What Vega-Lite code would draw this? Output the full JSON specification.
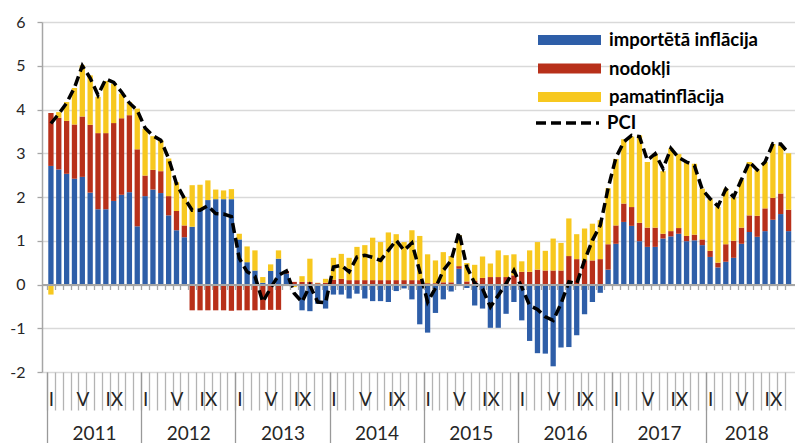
{
  "$schema": "https://vega.github.io/schema/vega-lite/v6.json",
  "width": 753,
  "height": 350,
  "autosize": {"type": "none"},
  "padding": {"left": 42, "top": 22, "right": 0, "bottom": 71},
  "background": "white",
  "data": {"values": [
    {"m":1,"importētā inflācija":2.71,"nodokļi":1.21,"pamatinflācija":-0.23,"pci":3.68},
    {"m":2,"importētā inflācija":2.63,"nodokļi":1.18,"pamatinflācija":0.13,"pci":3.90},
    {"m":3,"importētā inflācija":2.53,"nodokļi":1.21,"pamatinflācija":0.43,"pci":4.15},
    {"m":4,"importētā inflācija":2.42,"nodokļi":1.24,"pamatinflācija":0.83,"pci":4.50},
    {"m":5,"importētā inflācija":2.46,"nodokļi":1.38,"pamatinflācija":1.17,"pci":5.00},
    {"m":6,"importētā inflācija":2.10,"nodokļi":1.55,"pamatinflācija":1.13,"pci":4.72},
    {"m":7,"importētā inflācija":1.72,"nodokļi":1.74,"pamatinflācija":0.83,"pci":4.33},
    {"m":8,"importētā inflācija":1.72,"nodokļi":1.74,"pamatinflācija":1.19,"pci":4.70},
    {"m":9,"importētā inflācija":1.91,"nodokļi":1.78,"pamatinflācija":0.90,"pci":4.62},
    {"m":10,"importētā inflācija":2.05,"nodokļi":1.75,"pamatinflācija":0.56,"pci":4.40},
    {"m":11,"importētā inflācija":2.11,"nodokļi":1.76,"pamatinflācija":0.30,"pci":4.15},
    {"m":12,"importētā inflācija":1.33,"nodokļi":1.76,"pamatinflācija":0.93,"pci":3.98},
    {"m":13,"importētā inflācija":2.02,"nodokļi":0.47,"pamatinflācija":1.07,"pci":3.58},
    {"m":14,"importētā inflācija":2.17,"nodokļi":0.45,"pamatinflācija":0.77,"pci":3.40},
    {"m":15,"importētā inflācija":2.09,"nodokļi":0.50,"pamatinflācija":0.71,"pci":3.30},
    {"m":16,"importētā inflācija":1.58,"nodokļi":0.44,"pamatinflācija":0.86,"pci":2.88},
    {"m":17,"importētā inflācija":1.24,"nodokļi":0.44,"pamatinflācija":0.66,"pci":2.30},
    {"m":18,"importētā inflācija":1.08,"nodokļi":0.27,"pamatinflācija":0.65,"pci":1.97},
    {"m":19,"importētā inflācija":1.32,"nodokļi":-0.59,"pamatinflācija":0.95,"pci":1.70},
    {"m":20,"importētā inflācija":1.74,"nodokļi":-0.59,"pamatinflācija":0.54,"pci":1.70},
    {"m":21,"importētā inflācija":1.93,"nodokļi":-0.59,"pamatinflācija":0.45,"pci":1.80},
    {"m":22,"importētā inflācija":1.95,"nodokļi":-0.59,"pamatinflācija":0.22,"pci":1.62},
    {"m":23,"importētā inflācija":1.95,"nodokļi":-0.59,"pamatinflācija":0.20,"pci":1.61},
    {"m":24,"importētā inflācija":1.95,"nodokļi":-0.60,"pamatinflācija":0.23,"pci":1.55},
    {"m":25,"importētā inflācija":1.03,"nodokļi":-0.59,"pamatinflācija":0.13,"pci":0.60},
    {"m":26,"importētā inflācija":0.51,"nodokļi":-0.59,"pamatinflācija":0.36,"pci":0.29},
    {"m":27,"importētā inflācija":0.32,"nodokļi":-0.59,"pamatinflācija":0.46,"pci":0.19},
    {"m":28,"importētā inflācija":0.04,"nodokļi":-0.58,"pamatinflācija":0.13,"pci":-0.40},
    {"m":29,"importētā inflācija":0.31,"nodokļi":-0.58,"pamatinflācija":0.15,"pci":-0.08},
    {"m":30,"importētā inflācija":0.59,"nodokļi":-0.58,"pamatinflācija":0.19,"pci":0.21},
    {"m":31,"importētā inflācija":0.25,"nodokļi":0.06,"pamatinflācija":0.00,"pci":0.31},
    {"m":32,"importētā inflācija":0.00,"nodokļi":0.06,"pamatinflācija":-0.06,"pci":-0.20},
    {"m":33,"importētā inflācija":-0.59,"nodokļi":0.06,"pamatinflācija":0.13,"pci":-0.40},
    {"m":34,"importētā inflācija":-0.61,"nodokļi":0.06,"pamatinflācija":0.53,"pci":-0.02},
    {"m":35,"importētā inflācija":-0.44,"nodokļi":0.03,"pamatinflācija":0.01,"pci":-0.40},
    {"m":36,"importētā inflācija":-0.55,"nodokļi":0.04,"pamatinflācija":0.09,"pci":-0.42},
    {"m":37,"importētā inflācija":-0.23,"nodokļi":0.11,"pamatinflācija":0.50,"pci":0.40},
    {"m":38,"importētā inflācija":-0.23,"nodokļi":0.13,"pamatinflācija":0.57,"pci":0.44},
    {"m":39,"importētā inflācija":-0.32,"nodokļi":0.10,"pamatinflācija":0.51,"pci":0.29},
    {"m":40,"importētā inflācija":-0.21,"nodokļi":0.10,"pamatinflācija":0.76,"pci":0.63},
    {"m":41,"importētā inflācija":-0.32,"nodokļi":0.10,"pamatinflācija":0.80,"pci":0.67},
    {"m":42,"importētā inflācija":-0.38,"nodokļi":0.10,"pamatinflācija":0.97,"pci":0.62},
    {"m":43,"importētā inflācija":-0.38,"nodokļi":0.10,"pamatinflācija":0.87,"pci":0.55},
    {"m":44,"importētā inflācija":-0.40,"nodokļi":0.10,"pamatinflācija":1.09,"pci":0.78},
    {"m":45,"importētā inflācija":-0.15,"nodokļi":0.10,"pamatinflācija":1.05,"pci":1.01},
    {"m":46,"importētā inflācija":-0.09,"nodokļi":0.10,"pamatinflācija":0.87,"pci":0.78},
    {"m":47,"importētā inflācija":-0.34,"nodokļi":0.10,"pamatinflācija":1.14,"pci":0.95},
    {"m":48,"importētā inflācija":-0.91,"nodokļi":0.10,"pamatinflācija":1.01,"pci":0.30},
    {"m":49,"importētā inflācija":-1.10,"nodokļi":0.03,"pamatinflācija":0.66,"pci":-0.40},
    {"m":50,"importētā inflācija":-0.65,"nodokļi":0.03,"pamatinflācija":0.52,"pci":-0.08},
    {"m":51,"importētā inflācija":-0.34,"nodokļi":0.05,"pamatinflācija":0.69,"pci":0.32},
    {"m":52,"importētā inflācija":-0.16,"nodokļi":0.05,"pamatinflācija":0.60,"pci":0.55},
    {"m":53,"importētā inflācija":0.36,"nodokļi":0.06,"pamatinflācija":0.71,"pci":1.20},
    {"m":54,"importētā inflācija":-0.08,"nodokļi":0.07,"pamatinflācija":0.42,"pci":0.40},
    {"m":55,"importētā inflācija":-0.48,"nodokļi":0.09,"pamatinflācija":0.36,"pci":0.03},
    {"m":56,"importētā inflācija":-0.55,"nodokļi":0.15,"pamatinflācija":0.49,"pci":-0.10},
    {"m":57,"importētā inflācija":-0.99,"nodokļi":0.17,"pamatinflācija":0.31,"pci":-0.51},
    {"m":58,"importētā inflācija":-0.99,"nodokļi":0.17,"pamatinflācija":0.61,"pci":-0.25},
    {"m":59,"importētā inflācija":-0.67,"nodokļi":0.17,"pamatinflācija":0.50,"pci":0.02},
    {"m":60,"importētā inflācija":-0.40,"nodokļi":0.21,"pamatinflācija":0.48,"pci":0.32},
    {"m":61,"importētā inflācija":-0.82,"nodokļi":0.29,"pamatinflācija":0.24,"pci":-0.06},
    {"m":62,"importētā inflācija":-1.29,"nodokļi":0.29,"pamatinflācija":0.49,"pci":-0.48},
    {"m":63,"importētā inflācija":-1.57,"nodokļi":0.34,"pamatinflācija":0.63,"pci":-0.57},
    {"m":64,"importētā inflācija":-1.58,"nodokļi":0.32,"pamatinflācija":0.45,"pci":-0.74},
    {"m":65,"importētā inflācija":-1.87,"nodokļi":0.32,"pamatinflācija":0.73,"pci":-0.82},
    {"m":66,"importētā inflācija":-1.44,"nodokļi":0.32,"pamatinflācija":0.63,"pci":-0.44},
    {"m":67,"importētā inflācija":-1.43,"nodokļi":0.65,"pamatinflācija":0.86,"pci":0.06},
    {"m":68,"importētā inflācija":-1.16,"nodokļi":0.58,"pamatinflācija":0.57,"pci":0.02},
    {"m":69,"importētā inflācija":-0.68,"nodokļi":0.55,"pamatinflācija":0.73,"pci":0.55},
    {"m":70,"importētā inflācija":-0.40,"nodokļi":0.55,"pamatinflācija":0.84,"pci":1.01},
    {"m":71,"importētā inflācija":-0.19,"nodokļi":0.58,"pamatinflācija":0.89,"pci":1.35},
    {"m":72,"importētā inflācija":0.34,"nodokļi":0.58,"pamatinflācija":1.28,"pci":2.20},
    {"m":73,"importētā inflācija":0.93,"nodokļi":0.42,"pamatinflācija":1.52,"pci":2.90},
    {"m":74,"importētā inflācija":1.43,"nodokļi":0.42,"pamatinflācija":1.47,"pci":3.26},
    {"m":75,"importētā inflācija":1.34,"nodokļi":0.43,"pamatinflācija":1.61,"pci":3.41},
    {"m":76,"importētā inflācija":0.99,"nodokļi":0.42,"pamatinflācija":2.00,"pci":3.38},
    {"m":77,"importētā inflācija":0.86,"nodokļi":0.44,"pamatinflācija":1.50,"pci":2.84},
    {"m":78,"importētā inflācija":0.86,"nodokļi":0.44,"pamatinflācija":1.69,"pci":2.99},
    {"m":79,"importētā inflācija":1.05,"nodokļi":0.11,"pamatinflācija":1.43,"pci":2.65},
    {"m":80,"importētā inflācija":1.10,"nodokļi":0.12,"pamatinflācija":1.89,"pci":3.11},
    {"m":81,"importētā inflācija":1.16,"nodokļi":0.13,"pamatinflācija":1.69,"pci":2.90},
    {"m":82,"importētā inflācija":0.99,"nodokļi":0.12,"pamatinflācija":1.69,"pci":2.80},
    {"m":83,"importētā inflācija":1.01,"nodokļi":0.13,"pamatinflācija":1.62,"pci":2.72},
    {"m":84,"importētā inflācija":0.90,"nodokļi":0.13,"pamatinflācija":1.16,"pci":2.17},
    {"m":85,"importētā inflācija":0.63,"nodokļi":0.14,"pamatinflācija":1.18,"pci":1.96},
    {"m":86,"importētā inflācija":0.39,"nodokļi":0.11,"pamatinflācija":1.27,"pci":1.79},
    {"m":87,"importētā inflācija":0.52,"nodokļi":0.40,"pamatinflācija":1.27,"pci":2.18},
    {"m":88,"importētā inflācija":0.61,"nodokļi":0.39,"pamatinflācija":0.99,"pci":2.00},
    {"m":89,"importētā inflācija":0.93,"nodokļi":0.37,"pamatinflācija":1.10,"pci":2.40},
    {"m":90,"importētā inflācija":1.20,"nodokļi":0.38,"pamatinflācija":1.22,"pci":2.80},
    {"m":91,"importētā inflācija":1.09,"nodokļi":0.48,"pamatinflācija":1.04,"pci":2.62},
    {"m":92,"importētā inflācija":1.22,"nodokļi":0.52,"pamatinflācija":1.06,"pci":2.80},
    {"m":93,"importētā inflācija":1.48,"nodokļi":0.50,"pamatinflācija":1.23,"pci":3.22},
    {"m":94,"importētā inflācija":1.61,"nodokļi":0.47,"pamatinflācija":1.10,"pci":3.21},
    {"m":95,"importētā inflācija":1.22,"nodokļi":0.49,"pamatinflācija":1.29,"pci":3.00}
  ]},
  "config": {
    "view": {"stroke": null},
    "font": "Lato",
    "axis": {"labelFont": "Lato", "grid": false},
    "axisY": {
      "grid": true, "gridColor": "#d9d9d9", "gridWidth": 1.5,
      "domain": true, "domainColor": "#a6a6a6", "domainWidth": 1.5,
      "ticks": true, "tickSize": 5, "tickColor": "#a6a6a6", "tickWidth": 1.3,
      "labelFontSize": 16, "labelPadding": 12, "labelColor": "#262626"
    }
  },
  "resolve": {"axis": {"x": "independent"}, "scale": {"x": "shared"}},
  "layer": [
    {
      "transform": [{"fold": ["importētā inflācija", "nodokļi", "pamatinflācija"], "as": ["k", "v"]}],
      "mark": {"type": "bar", "size": 5.3, "clip": true},
      "encoding": {
        "x": {"field": "m", "type": "quantitative",
          "scale": {"domain": [0.5, 95.18], "nice": false, "zero": false},
          "axis": {"orient": "bottom", "title": null, "domain": false, "grid": false,
            "values": [0.5,1.5,2.5,3.5,4.5,5.5,6.5,7.5,8.5,9.5,10.5,11.5,12.5,13.5,14.5,15.5,16.5,17.5,18.5,19.5,20.5,21.5,22.5,23.5,24.5,25.5,26.5,27.5,28.5,29.5,30.5,31.5,32.5,33.5,34.5,35.5,36.5,37.5,38.5,39.5,40.5,41.5,42.5,43.5,44.5,45.5,46.5,47.5,48.5,49.5,50.5,51.5,52.5,53.5,54.5,55.5,56.5,57.5,58.5,59.5,60.5,61.5,62.5,63.5,64.5,65.5,66.5,67.5,68.5,69.5,70.5,71.5,72.5,73.5,74.5,75.5,76.5,77.5,78.5,79.5,80.5,81.5,82.5,83.5,84.5,85.5,86.5,87.5,88.5,89.5,90.5,91.5,92.5,93.5,94.5],
            "ticks": true, "tickSize": 38, "tickColor": "#b3b3b3", "tickWidth": 1.3,
            "labelExpr": "(datum.value-0.5)%12==0 ? 'I' : (datum.value-0.5)%12==4 ? 'V' : (datum.value-0.5)%12==8 ? 'IX' : ''",
            "labelOffset": 3.98, "labelPadding": -19.6, "labelFontSize": 19, "labelColor": "#262626",
            "labelAlign": "center", "labelBaseline": "top",
            "labelOverlap": false, "labelBound": false, "labelFlush": false}},
        "y": {"field": "v", "type": "quantitative", "stack": "zero",
          "scale": {"domain": [-2, 6], "nice": false},
          "axis": {"title": null, "values": [-2,-1,0,1,2,3,4,5,6], "labelExpr": "'' + datum.value"}},
        "color": {"field": "k", "type": "nominal",
          "scale": {"domain": ["importētā inflācija", "nodokļi", "pamatinflācija"], "range": ["#2E5EA8", "#B8301A", "#F7C81F"]},
          "legend": {"orient": "none", "legendX": 496, "legendY": 7.5, "title": null, "padding": 0,
            "symbolType": "M-3,-0.476H3V0.476H-3Z", "symbolSize": 441, "symbolStrokeWidth": 0,
            "symbolOffset": 21, "labelOffset": 29, "labelFontSize": 18.5, "labelFontWeight": "bold",
            "labelFont": "Lato", "labelColor": "#000000", "rowPadding": 8.5}},
        "order": {"field": "k", "sort": "ascending"}
      }
    },
    {
      "mark": {"type": "line", "color": "#000000", "strokeWidth": 3.5, "strokeCap": "butt", "clip": true},
      "encoding": {
        "x": {"field": "m", "type": "quantitative",
          "scale": {"domain": [0.5, 95.18], "nice": false, "zero": false},
          "axis": {"orient": "bottom", "title": null, "offset": -87.5, "zindex": 1, "grid": false,
            "domain": true, "domainColor": "#a6a6a6", "domainWidth": 2,
            "values": [0.5,1.5,2.5,3.5,4.5,5.5,6.5,7.5,8.5,9.5,10.5,11.5,12.5,13.5,14.5,15.5,16.5,17.5,18.5,19.5,20.5,21.5,22.5,23.5,24.5,25.5,26.5,27.5,28.5,29.5,30.5,31.5,32.5,33.5,34.5,35.5,36.5,37.5,38.5,39.5,40.5,41.5,42.5,43.5,44.5,45.5,46.5,47.5,48.5,49.5,50.5,51.5,52.5,53.5,54.5,55.5,56.5,57.5,58.5,59.5,60.5,61.5,62.5,63.5,64.5,65.5,66.5,67.5,68.5,69.5,70.5,71.5,72.5,73.5,74.5,75.5,76.5,77.5,78.5,79.5,80.5,81.5,82.5,83.5,84.5,85.5,86.5,87.5,88.5,89.5,90.5,91.5,92.5,93.5,94.5],
            "ticks": true, "tickSize": 5, "tickColor": "#a6a6a6", "tickWidth": 1.3, "labels": false}},
        "y": {"field": "pci", "type": "quantitative",
          "scale": {"domain": [-2, 6], "nice": false},
          "axis": {"title": null, "values": [-2,-1,0,1,2,3,4,5,6], "labelExpr": "'' + datum.value"}},
        "strokeDash": {"datum": "PCI", "type": "nominal",
          "scale": {"domain": ["PCI"], "range": [[10, 5]]},
          "legend": {"orient": "none", "legendX": 494, "legendY": 67.5, "title": null, "padding": 0,
            "symbolType": "stroke", "symbolSize": 3969, "symbolStrokeWidth": 3.5, "symbolStrokeColor": "#000000",
            "symbolOffset": -2, "labelOffset": 6, "labelFontSize": 18.5, "labelFontWeight": "bold",
            "labelFont": "Lato", "labelColor": "#000000"}}
      }
    },
    {
      "mark": {"type": "point", "opacity": 0},
      "encoding": {
        "x": {"field": "m", "type": "quantitative",
          "scale": {"domain": [0.5, 95.18], "nice": false, "zero": false},
          "axis": {"orient": "bottom", "title": null, "domain": false, "grid": false,
            "values": [0.5, 12.5, 24.5, 36.5, 48.5, 60.5, 72.5, 84.5],
            "ticks": true, "tickSize": 71, "tickColor": "#999999", "tickWidth": 1.3, "labels": false}},
        "y": {"field": "pci", "type": "quantitative",
          "scale": {"domain": [-2, 6], "nice": false},
          "axis": {"title": null, "values": [-2,-1,0,1,2,3,4,5,6], "labelExpr": "'' + datum.value"}}
      }
    },
    {
      "mark": {"type": "point", "opacity": 0},
      "encoding": {
        "x": {"field": "m", "type": "quantitative",
          "scale": {"domain": [0.5, 95.18], "nice": false, "zero": false},
          "axis": {"orient": "bottom", "title": null, "domain": false, "grid": false, "ticks": false,
            "values": [6.5, 18.5, 30.5, 42.5, 54.5, 66.5, 78.5, 89.6],
            "labelExpr": "'' + (2011 + floor((datum.value - 0.5) / 12))",
            "labelPadding": 52, "labelFontSize": 19, "labelColor": "#262626",
            "labelAlign": "center", "labelBaseline": "top",
            "labelOverlap": false, "labelBound": false, "labelFlush": false}},
        "y": {"field": "pci", "type": "quantitative",
          "scale": {"domain": [-2, 6], "nice": false},
          "axis": {"title": null, "values": [-2,-1,0,1,2,3,4,5,6], "labelExpr": "'' + datum.value"}}
      }
    }
  ]
}
